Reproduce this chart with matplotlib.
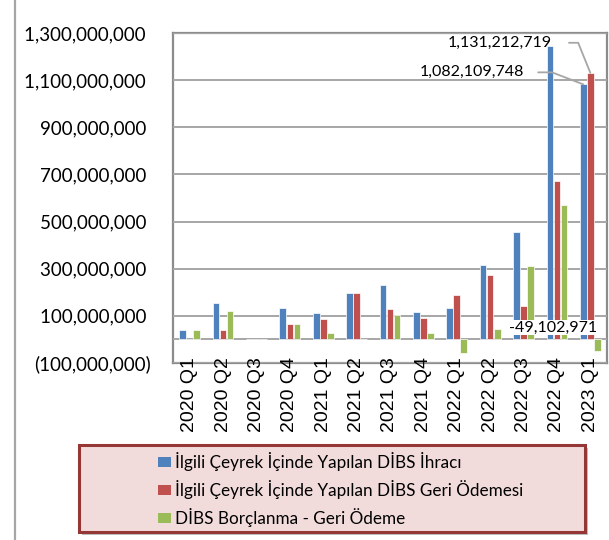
import matplotlib
matplotlib.use("Agg")
import matplotlib.pyplot as plt
import numpy as np
from matplotlib.patches import Rectangle
from matplotlib.ticker import FuncFormatter

categories = ["2020 Q1", "2020 Q2", "2020 Q3", "2020 Q4", "2021 Q1", "2021 Q2",
              "2021 Q3", "2021 Q4", "2022 Q1", "2022 Q2", "2022 Q3", "2022 Q4", "2023 Q1"]
issuance = [38e6, 156e6, 0, 132e6, 112e6, 198e6, 230e6, 118e6, 132e6, 316e6, 455e6, 1243e6, 1082109748]
repayment = [0, 38e6, 0, 67e6, 87e6, 198e6, 130e6, 90e6, 189e6, 272e6, 143e6, 673e6, 1131212719]
net = [42e6, 122e6, 0, 66e6, 28e6, 3e6, 102e6, 29e6, -57e6, 45e6, 313e6, 570e6, -49102971]
series_names = ["İlgili Çeyrek İçinde Yapılan DİBS İhracı",
                "İlgili Çeyrek İçinde Yapılan DİBS Geri Ödemesi",
                "DİBS Borçlanma - Geri Ödeme"]
yticks = [-100e6, 100e6, 300e6, 500e6, 700e6, 900e6, 1100e6, 1300e6]

colors = ["#4F81BD", "#C0504D", "#9BBB59"]
FONT = ["Lato", "DejaVu Sans"]
plt.rcParams['font.family'] = FONT

W, H = 609, 540
fig = plt.figure(figsize=(W / 100, H / 100), dpi=100)
ax = fig.add_axes([173 / W, 1 - 363 / H, (607 - 173) / W, (363 - 33) / H])

x = np.arange(len(categories))
bw = 0.2
off = 0.21
bars = []
for k, (vals, c) in enumerate(zip([issuance, repayment, net], colors)):
    b = ax.bar(x + (k - 1) * off, vals, width=bw, color=c, edgecolor="white",
               linewidth=0.5, zorder=3, label=series_names[k])
    bars.append(b)

ax.set_xlim(-0.5, len(categories) - 0.5)
ax.set_ylim(-100e6, 1300e6)
ax.set_yticks(yticks)


def fmt(v, pos):
    if v < 0:
        return "({:,.0f})".format(-v)
    return "{:,.0f}\u2009\u2009".format(v)


ax.yaxis.set_major_formatter(FuncFormatter(fmt))
ax.tick_params(axis='y', length=0, pad=16, labelsize=13.5, colors="black")
for t in ax.get_yticklabels():
    t.set_family(FONT)

ax.yaxis.grid(True, color="#A6A6A6", linewidth=1.4)
ax.axhline(0, color="#A6A6A6", linewidth=1.4, zorder=2.6)
for s in ax.spines.values():
    s.set_color("#8C8C8C")
    s.set_linewidth(1.6)
    s.set_zorder(1.0)
ax.xaxis.set_zorder(4)

ax.set_xticks(x)
ax.set_xticklabels(categories, rotation=90, fontsize=14, family=["Liberation Sans", "DejaVu Sans"])
ax.tick_params(axis='x', length=0, pad=-4)
for t in ax.get_xticklabels():
    t.set_verticalalignment("top")

# data labels for last quarter
last = len(categories) - 1
lab_kw = dict(fontsize=11.5, color="black", family=FONT)
ax.annotate("{:,.0f}".format(repayment[last]), xy=(x[last], repayment[last]),
            xytext=(-38, 30), textcoords="offset pixels", ha="right", va="center",
            arrowprops=dict(arrowstyle="-", color="#A6A6A6", lw=1.3,
                            connectionstyle="angle,angleA=0,angleB=112,rad=0",
                            shrinkA=10, shrinkB=0), annotation_clip=False, **lab_kw)
ax.annotate("{:,.0f}".format(issuance[last]), xy=(x[last] - off, issuance[last]),
            xytext=(-59, 12), textcoords="offset pixels", ha="right", va="center",
            arrowprops=dict(arrowstyle="-", color="#A6A6A6", lw=1.3,
                            connectionstyle="angle,angleA=0,angleB=159,rad=0",
                            shrinkA=8, shrinkB=0), annotation_clip=False, **lab_kw)
ax.annotate("{:,.0f}".format(net[last]), xy=(x[last] + off, 0),
            xytext=(0, 12), textcoords="offset pixels", ha="right", va="center",
            bbox=dict(boxstyle="square,pad=0.05", fc="white", ec="none"),
            zorder=5, annotation_clip=False, **lab_kw)

# left page line
fig.add_artist(plt.Line2D([15 / W, 15 / W], [0, 1], color="#A6A6A6", lw=1.6,
                          transform=fig.transFigure))

# legend box
lx0, lx1, ly0, ly1 = 79, 585, 445, 532
shadow = Rectangle((lx0 / W + 3 / W, 1 - ly1 / H - 3 / H), (lx1 - lx0) / W, (ly1 - ly0) / H,
                   transform=fig.transFigure, fc="#BFBFBF", ec="none", zorder=0)
box = Rectangle((lx0 / W, 1 - ly1 / H), (lx1 - lx0) / W, (ly1 - ly0) / H,
                transform=fig.transFigure, fc="#F2DCDB", ec="#953735", lw=2.2, zorder=1)
fig.add_artist(shadow)
fig.add_artist(box)
leg = fig.legend(handles=bars, labels=series_names, loc="upper left",
                 bbox_to_anchor=(146 / W, 1 - 440 / H), frameon=False,
                 fontsize=12.3, handlelength=0.75, handleheight=0.55,
                 handletextpad=0.25, labelspacing=0.52, borderpad=0.2)
leg.set_zorder(2)
for t in leg.get_texts():
    t.set_family(FONT)
for h in leg.legend_handles:
    h.set_edgecolor("none")

fig.savefig("out.png", dpi=100)
